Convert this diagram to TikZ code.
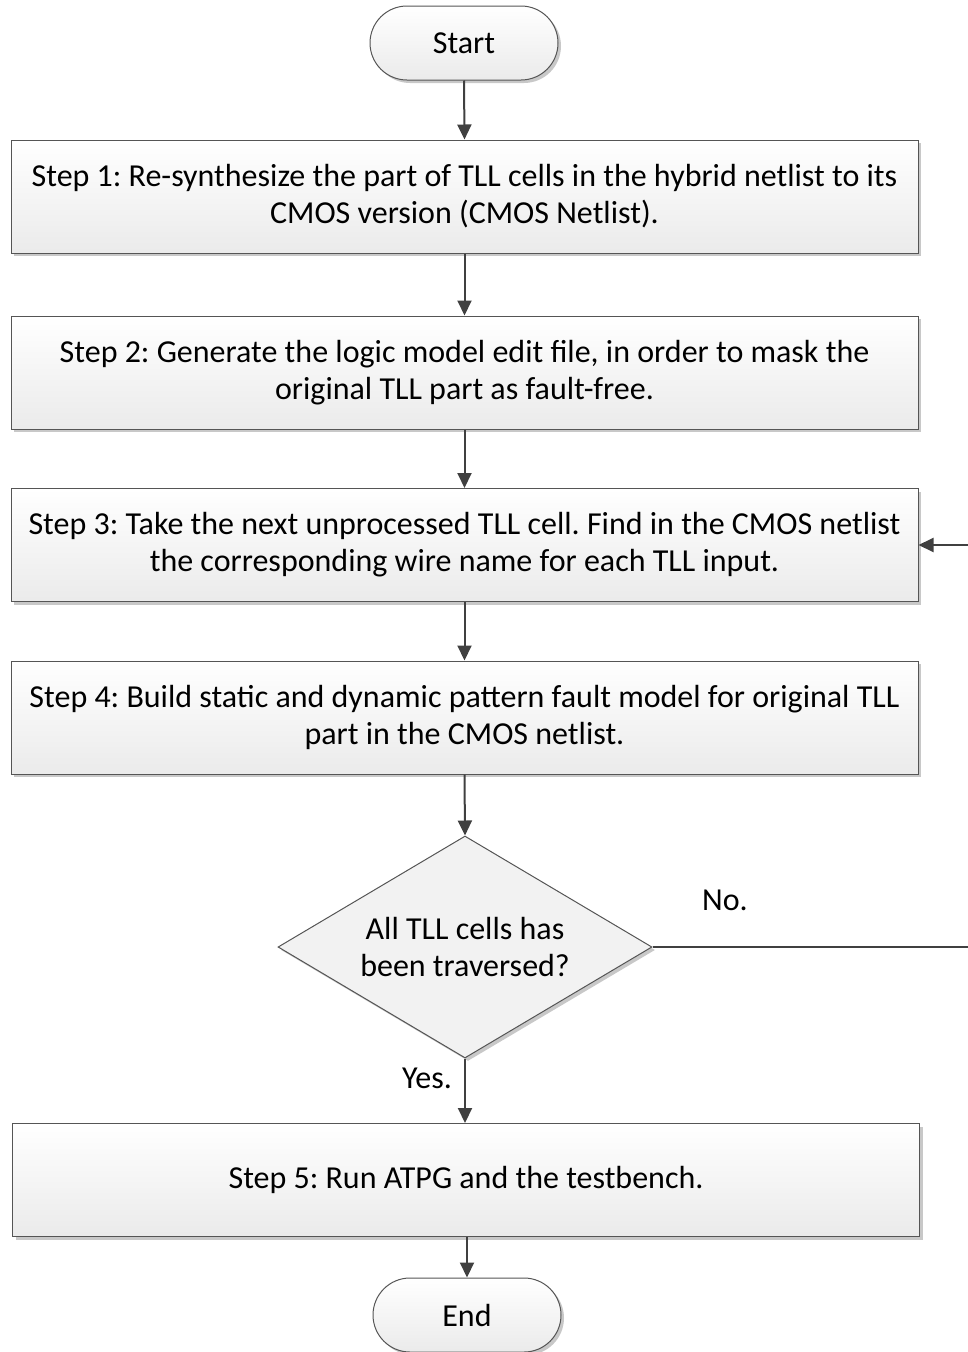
\documentclass[tikz,border=0pt]{standalone}
\usepackage{fontspec}
\setmainfont{Carlito}
\usetikzlibrary{arrows.meta,shapes.geometric,shadows}
\definecolor{bordc}{HTML}{555555}
\definecolor{arrc}{HTML}{404040}
\definecolor{shadc}{HTML}{C8C8C8}
\tikzset{
  x=1pt,y=-1pt,
  every node/.style={font=\fontsize{32}{37}\selectfont\frenchspacing},
  shad/.style={drop shadow={shadow xshift=3pt,shadow yshift=-3pt,fill=shadc,opacity=1}},
  stepbox/.style={draw=bordc,line width=1pt,rectangle,minimum width=907pt,minimum height=113pt,
    top color=white,bottom color=black!8,shad,align=center,inner sep=0pt},
  term/.style={draw=bordc,line width=1pt,rectangle,rounded corners=37pt,minimum width=188pt,minimum height=74pt,
    top color=white,bottom color=black!8,shad},
  dec/.style={draw=bordc,line width=1pt,diamond,minimum width=374pt,minimum height=222pt,inner sep=0pt,
    fill=black!5,shad,align=center,aspect=1.68},
  arr/.style={draw=arrc,line width=2pt,-{Triangle[length=15pt,width=14pt]}},
  lin/.style={draw=arrc,line width=2pt},
  lbl/.style={inner sep=0pt}
}
\begin{document}
\begin{tikzpicture}
\useasboundingbox (0,0) rectangle (968,1352);
\node[term] (start) at (464,43) {Start};
\node[stepbox] (s1) at (464.5,196.5) {Step 1: Re-synthesize the part of TLL cells in the hybrid netlist to its\\CMOS version (CMOS Netlist).};
\node[stepbox] (s2) at (464.5,372.5) {Step 2: Generate the logic model edit file, in order to mask the\\original TLL part as fault-free.};
\node[stepbox] (s3) at (464.5,545) {Step 3: Take the next unprocessed TLL cell. Find in the CMOS netlist\\the corresponding wire name for each TLL input.};
\node[stepbox] (s4) at (464.5,717.5) {Step 4: Build static and dynamic pattern fault model for original TLL\\part in the CMOS netlist.};
\node[dec] (d) at (465,947) {All TLL cells has\\been traversed?};
\node[stepbox] (s5) at (466,1180) {Step 5: Run ATPG and the testbench.};
\node[term] (end) at (467,1315) {End};
\node[lbl] (no) at (725,900) {No.};
\node[lbl] (yes) at (427,1078) {Yes.};
\coordinate (c1) at (969.5,947);
\coordinate (c2) at (969.5,545);
\draw[arr] (start.south) -- (s1.north);
\draw[arr] (s1.south) -- (s2.north);
\draw[arr] (s2.south) -- (s3.north);
\draw[arr] (s3.south) -- (s4.north);
\draw[arr] (s4.south) -- (d.north);
\draw[arr] (d.south) -- (d.south |- s5.north);
\draw[arr] (s5.south -| end.north) -- (end.north);
\draw[lin] (d.east) -- (c1) -- (c2);
\draw[arr] (c2) -- (s3.east);
\end{tikzpicture}
\end{document}
